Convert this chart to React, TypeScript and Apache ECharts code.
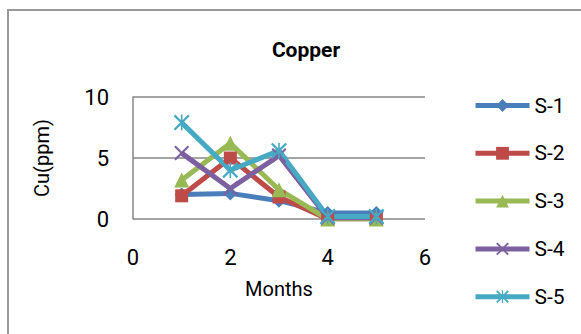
import React, { useEffect, useRef } from "react";
import * as echarts from "echarts";

const months = [1, 2, 3, 4, 5];
const seriesNames = ["S-1", "S-2", "S-3", "S-4", "S-5"];
const s1 = [2.0, 2.1, 1.5, 0.5, 0.5];
const s2 = [1.9, 5.0, 1.8, 0.0, 0.0];
const s3 = [3.2, 6.2, 2.4, 0.0, 0.0];
const s4 = [5.4, 2.5, 5.2, 0.1, 0.1];
const s5 = [7.9, 4.0, 5.6, 0.2, 0.2];
const seriesValues = [s1, s2, s3, s4, s5];
const colors = ["#4A7EBB", "#BE4B48", "#98B954", "#7D60A0", "#46AAC5"];

const crossPath =
  "path://M1,0 L5,4 L9,0 L10,1 L6,5 L10,9 L9,10 L5,6 L1,10 L0,9 L4,5 L0,1 Z";
const starPath =
  "path://M1,0 L5,4 L9,0 L10,1 L6,5 L10,9 L9,10 L5,6 L1,10 L0,9 L4,5 L0,1 Z M4.5,0 L5.5,0 L5.5,10 L4.5,10 Z";
const symbols = ["diamond", "rect", "triangle", crossPath, starPath];
const symbolSizes = [14, 13, 15, 15, 16];

const FONT = "Roboto, 'Liberation Sans', sans-serif";

export default function App() {
  const ref = useRef<HTMLDivElement>(null);
  useEffect(() => {
    document.body.style.margin = "0";
    const chart = echarts.init(ref.current!, null, { renderer: "svg" });
    chart.setOption({
      animation: false,
      backgroundColor: "#fff",
      title: {
        text: "Copper",
        left: 301,
        top: 34,
        textAlign: "center",
        textStyle: { fontFamily: FONT, fontSize: 21, fontWeight: "bold", color: "#000" },
      },
      graphic: [
        {
          type: "rect",
          shape: { x: 8, y: 10, width: 620, height: 400 },
          style: { fill: "none", stroke: "#999999", lineWidth: 2 },
          silent: true,
        },
      ],
      legend: {
        orient: "vertical",
        left: 473,
        top: 95,
        height: 236,
        padding: 0,
        itemWidth: 54,
        itemHeight: 16,
        itemGap: 26.8,
        lineStyle: { width: 5 },
        textStyle: { fontFamily: FONT, fontSize: 21, color: "#000", padding: [0, 0, 0, 0] },
        data: seriesNames,
      },
      grid: { left: 133, right: 156, top: 97, bottom: 115 },
      xAxis: {
        type: "value",
        min: 0,
        max: 6,
        interval: 2,
        name: "Months",
        nameLocation: "middle",
        nameGap: 60,
        nameTextStyle: { fontFamily: FONT, fontSize: 20, color: "#000" },
        axisLine: { show: false },
        axisTick: { show: false },
        splitLine: { show: false },
        axisLabel: { fontFamily: FONT, fontSize: 22, color: "#000", margin: 27 },
      },
      yAxis: {
        type: "value",
        min: 0,
        max: 10,
        interval: 5,
        name: "Cu(ppm)",
        nameLocation: "middle",
        nameGap: 81,
        nameTextStyle: { fontFamily: FONT, fontSize: 20, color: "#000" },
        axisLine: { show: true, lineStyle: { color: "#868686", width: 1.5 } },
        axisTick: { show: false },
        splitLine: { show: true, lineStyle: { color: "#868686", width: 1.5 } },
        axisLabel: { fontFamily: FONT, fontSize: 22, color: "#000", margin: 24 },
      },
      series: seriesNames.map((name, i) => ({
        name,
        type: "line",
        data: months.map((m, j) => [m, seriesValues[i][j]]),
        symbol: symbols[i],
        symbolSize: symbolSizes[i],
        showAllSymbol: true,
        lineStyle: { color: colors[i], width: 5 },
        itemStyle: { color: colors[i] },
      })),
    });
    return () => chart.dispose();
  }, []);
  return <div ref={ref} style={{ width: 581, height: 334 }} />;
}
